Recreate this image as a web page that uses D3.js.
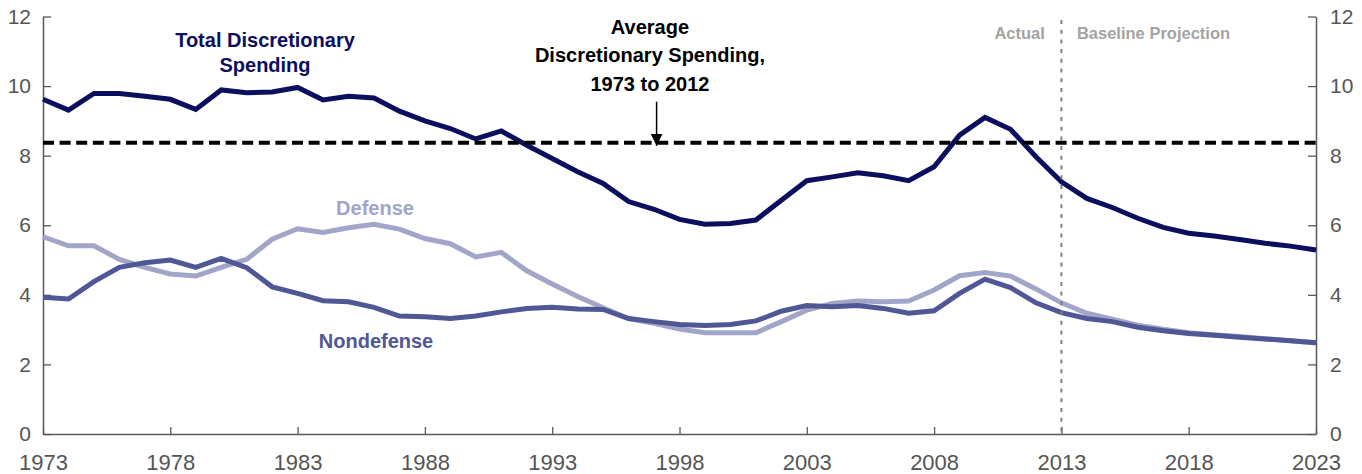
<!DOCTYPE html>
<html>
<head>
<meta charset="utf-8">
<script src="https://cdn.jsdelivr.net/npm/d3@7"></script>
<style>
  html, body { margin: 0; padding: 0; background: #fff; }
  svg { display: block; }
  .tick text { font-family: "Liberation Sans Narrow", "Liberation Sans", Arial, sans-serif; font-size: 22px; fill: #555; }
  .lbl { font-family: "Liberation Sans", Arial, sans-serif; font-weight: bold; }
</style>
</head>
<body>
<svg id="chart" width="1362" height="474"></svg>
<script>
const years = d3.range(1973, 2024);
const totalSpending = [9.62,9.31,9.79,9.79,9.71,9.62,9.33,9.89,9.81,9.83,9.96,9.60,9.71,9.66,9.28,9.00,8.78,
  8.48,8.71,8.30,7.92,7.54,7.20,6.68,6.46,6.17,6.03,6.05,6.15,6.72,7.28,7.39,7.51,7.42,7.28,
  7.68,8.59,9.10,8.76,7.97,7.25,6.77,6.51,6.20,5.94,5.77,5.69,5.59,5.48,5.40,5.29];
const defense = [5.67,5.41,5.41,5.02,4.79,4.60,4.54,4.79,5.02,5.60,5.90,5.79,5.93,6.03,5.89,5.62,5.47,
  5.09,5.22,4.69,4.31,3.95,3.63,3.32,3.18,3.02,2.91,2.91,2.91,3.23,3.56,3.75,3.82,3.80,3.82,
  4.14,4.55,4.64,4.54,4.17,3.77,3.47,3.30,3.13,3.01,2.91,2.85,2.80,2.74,2.68,2.62];
const nondefense = [3.93,3.88,4.38,4.79,4.92,5.00,4.79,5.05,4.78,4.23,4.04,3.83,3.80,3.64,3.39,3.37,3.32,
  3.39,3.51,3.61,3.64,3.59,3.58,3.32,3.23,3.15,3.12,3.15,3.25,3.53,3.69,3.66,3.69,3.61,3.47,
  3.54,4.04,4.45,4.21,3.77,3.49,3.32,3.23,3.07,2.97,2.89,2.84,2.78,2.73,2.68,2.62];
const averageSpending = 8.37;
const projectionStart = 2013;
const xTicks = [1973, 1978, 1983, 1988, 1993, 1998, 2003, 2008, 2013, 2018, 2023];
const yTicks = [0, 2, 4, 6, 8, 10, 12];

const svg = d3.select("#chart");
const x = d3.scaleLinear().domain([1973, 2023]).range([43, 1316]);
const y = d3.scaleLinear().domain([0, 12]).range([434, 16.5]);

const axisColor = "#5a5a5a";
function styleAxis(g) {
  g.selectAll("path.domain").attr("stroke", axisColor).attr("stroke-width", 1.5);
  g.selectAll(".tick line").attr("stroke", axisColor).attr("stroke-width", 1.3);
}

svg.append("g").attr("transform", `translate(${x(1973)},0)`)
  .call(d3.axisLeft(y).tickValues(yTicks).tickFormat(d3.format("d")).tickSize(-8).tickSizeOuter(0).tickPadding(12))
  .call(styleAxis)
  .call(g => g.selectAll("text").style("font-size", "21px"));
svg.append("g").attr("transform", `translate(${x(2023)},0)`)
  .call(d3.axisRight(y).tickValues(yTicks).tickFormat(d3.format("d")).tickSize(-8).tickSizeOuter(0).tickPadding(14))
  .call(styleAxis)
  .call(g => g.selectAll("text").style("font-size", "21px"));
svg.append("g").attr("transform", `translate(0,${y(0)})`)
  .call(d3.axisBottom(x).tickValues(xTicks).tickFormat(d3.format("d")).tickSize(-7).tickSizeOuter(0).tickPadding(20))
  .call(styleAxis);

const line = d3.line().x((d, i) => x(years[i])).y(d => y(d));
const series = [
  { values: defense, color: "#a1a5c8" },
  { values: nondefense, color: "#4f5795" },
  { values: totalSpending, color: "#0b0f5e" }
];
series.forEach(s => {
  svg.append("path").datum(s.values)
    .attr("d", line).attr("fill", "none")
    .attr("stroke", s.color).attr("stroke-width", 5)
    .attr("stroke-linejoin", "miter");
});

// average dashed line
svg.append("line")
  .attr("x1", x(1973)).attr("x2", x(2023))
  .attr("y1", y(averageSpending)).attr("y2", y(averageSpending))
  .attr("stroke", "#000").attr("stroke-width", 4).attr("stroke-dasharray", "11,5.6");

// projection divider
svg.append("line")
  .attr("x1", x(projectionStart)).attr("x2", x(projectionStart))
  .attr("y1", y(11.9)).attr("y2", y(0))
  .attr("stroke", "#7f7f7f").attr("stroke-width", 2).attr("stroke-dasharray", "4,5.7");

// arrow to average line
const arrowYear = 1997.1;
svg.append("defs").append("marker")
  .attr("id", "arrowhead").attr("viewBox", "0 0 10 10")
  .attr("refX", 10).attr("refY", 5).attr("markerWidth", 12).attr("markerHeight", 12)
  .attr("markerUnits", "userSpaceOnUse").attr("orient", "auto")
  .append("path").attr("d", "M0,0L10,5L0,10Z").attr("fill", "#000");
svg.append("line")
  .attr("x1", x(arrowYear)).attr("x2", x(arrowYear))
  .attr("y1", y(9.55)).attr("y2", y(averageSpending) + 3)
  .attr("stroke", "#000").attr("stroke-width", 1.5)
  .attr("marker-end", "url(#arrowhead)");

// labels
function label(lines, xv, yv, color, size, anchor, spacing) {
  const t = svg.append("text").attr("class", "lbl")
    .attr("x", x(xv)).attr("y", y(yv))
    .attr("fill", color).attr("font-size", size).attr("text-anchor", anchor);
  lines.forEach((l, i) => t.append("tspan").attr("x", x(xv)).attr("dy", i === 0 ? 0 : spacing).text(l));
}
label(["Total Discretionary", "Spending"], 1981.72, 11.12, "#0b0f5e", 20, "middle", 25);
label(["Average", "Discretionary Spending,", "1973 to 2012"], 1996.84, 11.49, "#000", 20, "middle", 28.2);
label(["Defense"], 1986.04, 6.29, "#a1a5c8", 20, "middle", 0);
label(["Nondefense"], 1986.08, 2.46, "#4f5795", 20, "middle", 0);
label(["Actual"], 2012.35, 11.35, "#a3a3a3", 16.5, "end", 0);
label(["Baseline Projection"], 2013.61, 11.35, "#a3a3a3", 16.5, "start", 0);
</script>
</body>
</html>
